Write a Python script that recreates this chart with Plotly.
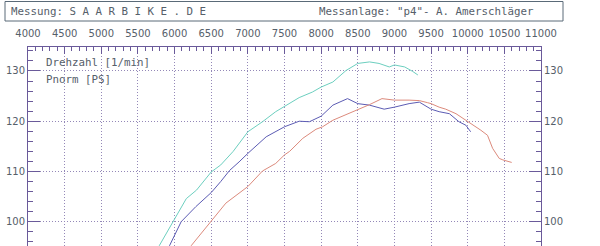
import plotly.graph_objects as go

# ---- data ----
green_rpm = [5790, 5975, 6160, 6300, 6500, 6630, 6800, 7000, 7200, 7380, 7570, 7700,
             7880, 8000, 8160, 8340, 8500, 8660, 8790, 8930, 9000, 9140, 9250, 9320]
green_ps = [95.2, 100.0, 104.6, 106.3, 109.9, 111.3, 114.0, 117.9, 119.9, 121.9, 123.6, 124.7,
            125.8, 126.8, 127.8, 130.1, 131.5, 131.8, 131.5, 130.8, 131.2, 130.8, 129.9, 129.2]

blue_rpm = [5930, 6090, 6290, 6500, 6630, 6750, 6880, 7000, 7250, 7500, 7700, 7840,
            8000, 8160, 8360, 8500, 8660, 8860, 9000, 9200, 9340, 9500, 9610, 9750,
            9880, 9975, 10040]
blue_ps = [95.2, 100.0, 103.0, 105.8, 108.0, 110.2, 111.9, 113.6, 116.9, 118.9, 120.0, 119.9,
           121.0, 123.2, 124.5, 123.5, 123.2, 122.4, 122.8, 123.5, 123.8, 122.4, 121.9, 121.5,
           119.9, 119.2, 117.9]

red_rpm = [6225, 6500, 6700, 7000, 7200, 7380, 7500, 7570, 7700, 7750, 7930, 8020,
           8160, 8340, 8500, 8660, 8830, 9000, 9200, 9340, 9450, 9500, 9610, 9700,
           9840, 9975, 10090, 10180, 10270, 10340, 10430, 10480, 10600]
red_ps = [95.2, 100.0, 103.7, 107.0, 110.1, 111.6, 113.3, 114.0, 115.9, 116.6, 118.4, 118.9,
          120.2, 121.3, 122.2, 123.3, 124.5, 124.2, 124.2, 124.1, 123.7, 123.5, 122.8, 122.4,
          121.5, 120.2, 119.2, 118.2, 117.2, 114.6, 112.6, 112.3, 111.8]

header_left = "Messung: S A A R B I K E . D E"
header_right = 'Messanlage: "p4"- A. Amerschläger'
legend_lines = ["Drehzahl [1/min]", "Pnorm [PS]"]

# ---- layout geometry ----
W, H = 600, 246
ML, MR, MT, MB = 28, 59, 47, 0
PW, PH = W - ML - MR, H - MT - MB


def px(xp):
    return (xp - ML) / PW


def py(yp):
    return (H - MB - yp) / PH


TEXT = "#56606a"
AXIS = "#6a5a9a"
GRID = "#9488b8"
MONO = "DejaVu Sans Mono"
SANS = "DejaVu Sans"
DOTS = "1px,2px"

fig = go.Figure()
fig.add_trace(go.Scatter(x=green_rpm, y=green_ps, mode="lines",
                         line=dict(color="#6ccfbf", width=1), showlegend=False))
fig.add_trace(go.Scatter(x=blue_rpm, y=blue_ps, mode="lines",
                         line=dict(color="#5c5cb4", width=1), showlegend=False))
fig.add_trace(go.Scatter(x=red_rpm, y=red_ps, mode="lines",
                         line=dict(color="#dc8a7c", width=1), showlegend=False))
fig.add_trace(go.Scatter(x=[None], y=[None], yaxis="y2", showlegend=False))

yr = [95.17, 134.77]

fig.update_layout(
    width=W, height=H,
    margin=dict(l=ML, r=MR, t=MT, b=MB),
    paper_bgcolor="white", plot_bgcolor="white",
    showlegend=False,
    xaxis=dict(range=[4000, 11000], side="top", tickmode="linear", tick0=4000, dtick=500,
               tickformat="d",
               ticks="inside", ticklen=7, tickcolor=AXIS, showline=True, linecolor=AXIS,
               linewidth=1, showgrid=True, gridcolor=GRID, griddash=DOTS, gridwidth=1,
               zeroline=False, tickfont=dict(family=SANS, size=10, color=TEXT),
               ticklabelstandoff=5,
               minor=dict(dtick=100, ticks="inside", ticklen=4, tickcolor=AXIS, showgrid=False)),
    yaxis=dict(range=yr, tickmode="linear", tick0=100, dtick=10,
               ticks="inside", ticklen=12, tickcolor=AXIS, showline=True, linecolor=AXIS,
               linewidth=1, showgrid=True, gridcolor=GRID, griddash=DOTS, gridwidth=1,
               zeroline=False, tickfont=dict(family=SANS, size=10, color=TEXT),
               minor=dict(dtick=2, ticks="inside", ticklen=5, tickcolor=AXIS, showgrid=False)),
    yaxis2=dict(range=yr, overlaying="y", side="right", tickmode="linear", tick0=100, dtick=10,
                ticks="inside", ticklen=12, tickcolor=AXIS, showline=True, linecolor=AXIS,
                linewidth=1, showgrid=False, zeroline=False,
                tickfont=dict(family=SANS, size=10, color=TEXT),
                minor=dict(dtick=2, ticks="inside", ticklen=5, tickcolor=AXIS, showgrid=False)),
)

# header box
fig.add_shape(type="rect", xref="paper", yref="paper",
              x0=px(5), x1=px(563), y0=py(21), y1=py(1.5),
              line=dict(color="#5a6a78", width=1), fillcolor="rgba(0,0,0,0)")

ann = [
    (9, 11, header_left),
    (317, 11, header_right),
    (44, 62, legend_lines[0]),
    (44, 79, legend_lines[1]),
]
for xp, yp, t in ann:
    fig.add_annotation(x=px(xp), y=py(yp), xref="paper", yref="paper", text=t,
                       showarrow=False, xanchor="left", yanchor="middle",
                       font=dict(family=MONO, size=10.8, color=TEXT))

fig.write_html("out.html")
